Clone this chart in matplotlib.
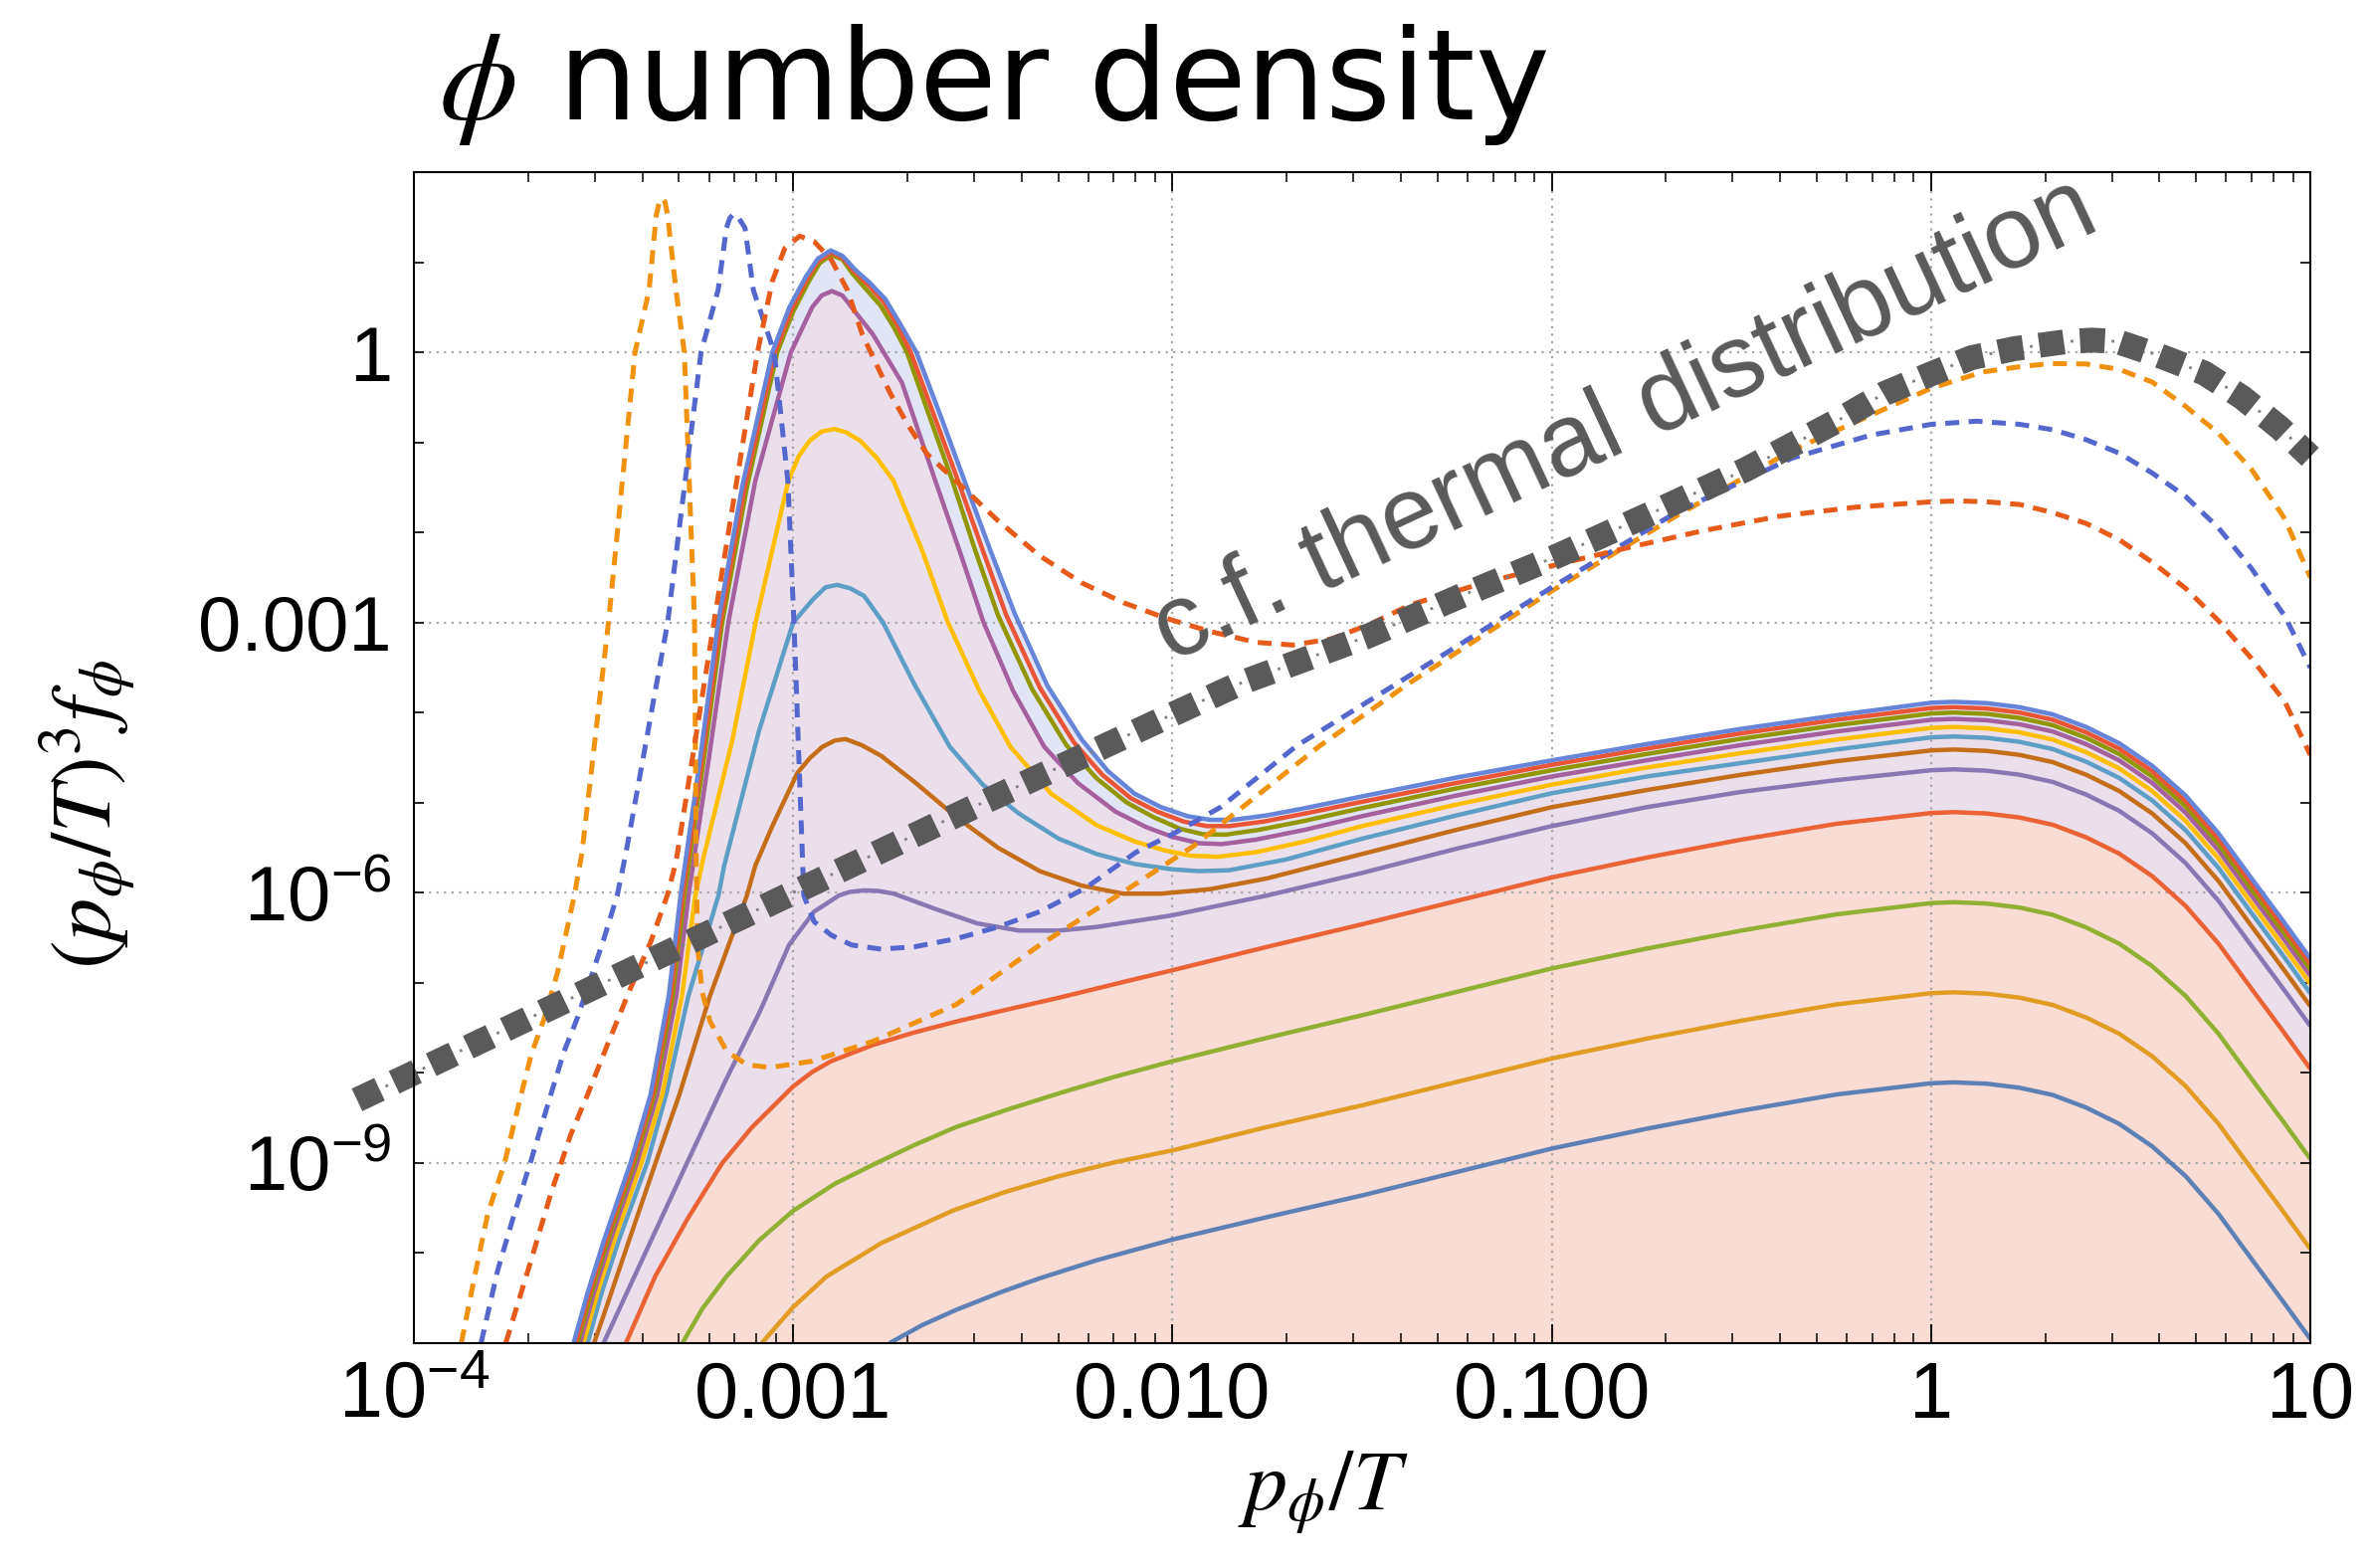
import numpy as np
import matplotlib
matplotlib.use("Agg")
import matplotlib.pyplot as plt
from matplotlib.ticker import FixedLocator, FixedFormatter, NullFormatter

# ---------------- data (log10 of x = p_phi/T and of y = (p/T)^3 f) ----------------
# right-hand x samples shared by the solid curves
lxr = [0.06, 0.147, 0.234, 0.321, 0.409, 0.496, 0.583, 0.671, 0.758, 0.845, 0.933, 1.0]

# solid curves 1..12 (bottom to top)
lx1 = [-2.746, -2.66, -2.57, -2.45, -2.35, -2.2, -2.0, -1.75, -1.5, -1.25, -1.0, -0.75, -0.5, -0.25, 0.0] + lxr
ly1 = [-11.0, -10.80, -10.63, -10.43, -10.28, -10.08, -9.85, -9.60, -9.36, -9.10, -8.84, -8.62, -8.42, -8.24, -8.115,
       -8.105, -8.12, -8.165, -8.245, -8.385, -8.565, -8.815, -9.145, -9.565, -10.065, -10.565, -10.955]

lx2 = [-3.083, -3.0, -2.912, -2.768, -2.58, -2.44, -2.294, -2.15, -2.0, -1.75, -1.5, -1.25, -1.0, -0.75, -0.5, -0.25, 0.0] + lxr
ly2 = [-11.0, -10.6, -10.26, -9.89, -9.53, -9.32, -9.14, -8.99, -8.86, -8.60, -8.36, -8.10, -7.84, -7.62, -7.42, -7.24, -7.115,
       -7.105, -7.12, -7.165, -7.245, -7.385, -7.565, -7.815, -8.145, -8.565, -9.065, -9.565, -9.955]

lx3 = [-3.292, -3.24, -3.176, -3.09, -3.0, -2.89, -2.78, -2.68, -2.57, -2.43, -2.294, -2.15, -2.0, -1.75, -1.5, -1.25, -1.0, -0.75, -0.5, -0.25, 0.0] + lxr
ly3 = [-11.0, -10.62, -10.26, -9.86, -9.53, -9.23, -9.0, -8.80, -8.60, -8.40, -8.22, -8.04, -7.87, -7.61, -7.36, -7.10, -6.84, -6.62, -6.42, -6.24, -6.115,
       -6.105, -6.12, -6.165, -6.245, -6.385, -6.565, -6.815, -7.145, -7.565, -8.065, -8.565, -8.955]

lx4 = [-3.441, -3.364, -3.28, -3.187, -3.11, -3.0, -2.95, -2.90, -2.79, -2.68, -2.57, -2.46, -2.294, -2.129, -2.0, -1.75, -1.5, -1.25, -1.0, -0.75, -0.5, -0.25, 0.0] + lxr
ly4 = [-11.0, -10.26, -9.63, -9.0, -8.61, -8.15, -7.99, -7.87, -7.69, -7.55, -7.43, -7.32, -7.16, -6.99, -6.86, -6.60, -6.35, -6.09, -5.83, -5.61, -5.41, -5.235, -5.115,
       -5.105, -5.12, -5.165, -5.245, -5.385, -5.565, -5.815, -6.145, -6.565, -7.065, -7.565, -7.955]

lx5 = [-3.50, -3.40, -3.28, -3.18, -3.088, -3.011, -2.945, -2.879, -2.85, -2.813, -2.775, -2.735, -2.625, -2.515, -2.405, -2.30, -2.2, -2.0, -1.75, -1.5, -1.25, -1.0, -0.75, -0.5, -0.25, 0.0] + lxr
ly5 = [-11.0, -10.09, -9.0, -8.1, -7.32, -6.58, -6.21, -6.03, -5.99, -5.974, -5.98, -6.01, -6.18, -6.34, -6.42, -6.42, -6.38, -6.25, -6.03, -5.78, -5.51, -5.26, -5.05, -4.88, -4.75, -4.64,
       -4.63, -4.645, -4.69, -4.77, -4.91, -5.09, -5.34, -5.67, -6.09, -6.59, -7.09, -7.48]

lx6 = [-3.525, -3.49, -3.44, -3.363, -3.30, -3.219, -3.122, -3.10, -3.055, -2.989, -2.955, -2.923, -2.89, -2.862, -2.82, -2.768, -2.68, -2.57, -2.46, -2.35, -2.24, -2.13, -2.03, -1.9, -1.75, -1.5, -1.25, -1.0, -0.75, -0.5, -0.25, 0.0] + lxr
ly6 = [-11.0, -10.57, -9.95, -9.0, -8.24, -7.14, -6.03, -5.70, -5.26, -4.67, -4.50, -4.38, -4.31, -4.294, -4.36, -4.48, -4.77, -5.16, -5.50, -5.76, -5.92, -6.01, -6.01, -5.96, -5.84, -5.57, -5.30, -5.05, -4.86, -4.69, -4.54, -4.42,
       -4.41, -4.425, -4.47, -4.55, -4.69, -4.87, -5.12, -5.45, -5.87, -6.37, -6.87, -7.26]

lx7 = [-3.542, -3.505, -3.46, -3.385, -3.335, -3.276, -3.197, -3.182, -3.09, -3.0, -2.945, -2.915, -2.884, -2.85, -2.813, -2.763, -2.68, -2.587, -2.5, -2.405, -2.3, -2.2, -2.1, -2.0, -1.93, -1.85, -1.7, -1.5, -1.25, -1.0, -0.75, -0.5, -0.25, 0.0] + lxr
ly7 = [-11.0, -10.44, -9.86, -9.0, -8.24, -7.14, -6.03, -5.70, -4.2, -3.0, -2.73, -2.61, -2.582, -2.62, -2.705, -3.0, -3.69, -4.38, -4.80, -5.12, -5.40, -5.57, -5.68, -5.74, -5.76, -5.75, -5.63, -5.40, -5.14, -4.895, -4.71, -4.56, -4.41, -4.275,
       -4.265, -4.28, -4.325, -4.405, -4.545, -4.725, -4.975, -5.305, -5.725, -6.225, -6.725, -7.115]

lx8 = [-3.553, -3.516, -3.472, -3.40, -3.345, -3.293, -3.258, -3.236, -3.16, -3.099, -3.013, -2.985, -2.956, -2.925, -2.891, -2.86, -2.824, -2.78, -2.735, -2.66, -2.592, -2.51, -2.427, -2.32, -2.2, -2.1, -2.02, -1.95, -1.88, -1.78, -1.65, -1.5, -1.25, -1.0, -0.75, -0.5, -0.25, 0.0] + lxr
ly8 = [-11.0, -10.44, -9.86, -9.0, -8.24, -7.14, -6.03, -5.60, -4.3, -3.0, -1.43, -1.15, -0.98, -0.88, -0.851, -0.89, -0.98, -1.17, -1.43, -2.2, -3.0, -3.75, -4.38, -4.9, -5.25, -5.43, -5.53, -5.59, -5.60, -5.55, -5.43, -5.26, -5.02, -4.80, -4.61, -4.45, -4.30, -4.17,
       -4.16, -4.175, -4.22, -4.30, -4.44, -4.62, -4.87, -5.20, -5.62, -6.12, -6.62, -7.01]

lx9 = [-3.562, -3.525, -3.482, -3.412, -3.358, -3.308, -3.276, -3.222, -3.171, -3.10, -3.006, -2.95, -2.925, -2.898, -2.87, -2.835, -2.79, -2.713, -2.625, -2.56, -2.498, -2.42, -2.338, -2.25, -2.15, -2.07, -2.0, -1.93, -1.87, -1.78, -1.65, -1.5, -1.25, -1.0, -0.75, -0.5, -0.25, 0.0] + lxr
ly9 = [-11.0, -10.44, -9.86, -9.0, -8.24, -7.14, -6.03, -4.5, -3.0, -1.43, 0.0, 0.50, 0.63, 0.679, 0.63, 0.44, 0.2, -0.34, -1.43, -2.22, -3.0, -3.76, -4.38, -4.78, -5.1, -5.27, -5.38, -5.45, -5.46, -5.41, -5.30, -5.15, -4.92, -4.71, -4.53, -4.36, -4.21, -4.08,
       -4.07, -4.085, -4.13, -4.21, -4.35, -4.53, -4.78, -5.11, -5.53, -6.03, -6.53, -6.92]

lx10 = [-3.569, -3.532, -3.489, -3.419, -3.366, -3.318, -3.287, -3.235, -3.187, -3.122, -3.042, -3.0, -2.960, -2.93, -2.90, -2.87, -2.845, -2.81, -2.77, -2.735, -2.70, -2.64, -2.58, -2.52, -2.46, -2.37, -2.28, -2.2, -2.12, -2.05, -1.98, -1.92, -1.86, -1.77, -1.65, -1.5, -1.25, -1.0, -0.75, -0.5, -0.25, 0.0] + lxr
ly10 = [-11.0, -10.44, -9.86, -9.0, -8.24, -7.14, -6.03, -4.5, -3.0, -1.5, 0.0, 0.45, 0.78, 0.99, 1.082, 1.03, 0.88, 0.71, 0.52, 0.28, 0.0, -0.72, -1.43, -2.2, -2.92, -3.74, -4.36, -4.73, -5.0, -5.16, -5.29, -5.35, -5.355, -5.30, -5.20, -5.06, -4.84, -4.64, -4.46, -4.29, -4.14, -4.01,
        -4.0, -4.015, -4.06, -4.14, -4.28, -4.46, -4.71, -5.04, -5.46, -5.96, -6.46, -6.85]

lx11 = [-3.574, -3.537, -3.494, -3.424, -3.371, -3.323, -3.292, -3.240, -3.192, -3.128, -3.048, -3.005, -2.965, -2.935, -2.90, -2.87, -2.84, -2.80, -2.76, -2.725, -2.69, -2.627, -2.565, -2.50, -2.438, -2.35, -2.26, -2.185, -2.11, -2.04, -1.97, -1.91, -1.85, -1.76, -1.65, -1.5, -1.25, -1.0, -0.75, -0.5, -0.25, 0.0] + lxr
ly11 = [-11.0, -10.44, -9.86, -9.0, -8.24, -7.14, -6.03, -4.5, -3.0, -1.5, 0.0, 0.47, 0.80, 1.01, 1.107, 1.05, 0.90, 0.74, 0.55, 0.30, 0.0, -0.72, -1.43, -2.2, -2.92, -3.72, -4.33, -4.69, -4.95, -5.1, -5.21, -5.26, -5.26, -5.21, -5.12, -4.99, -4.78, -4.58, -4.40, -4.23, -4.08, -3.95,
        -3.94, -3.955, -4.0, -4.08, -4.22, -4.40, -4.65, -4.98, -5.40, -5.90, -6.40, -6.79]

lx12 = [-3.579, -3.542, -3.499, -3.429, -3.376, -3.328, -3.297, -3.245, -3.198, -3.135, -3.055, -3.01, -2.967, -2.935, -2.901, -2.87, -2.835, -2.80, -2.757, -2.72, -2.675, -2.61, -2.548, -2.48, -2.416, -2.33, -2.239, -2.17, -2.1, -2.03, -1.96, -1.9, -1.84, -1.75, -1.65, -1.5, -1.25, -1.0, -0.75, -0.5, -0.25, 0.0] + lxr
ly12 = [-11.0, -10.44, -9.86, -9.0, -8.24, -7.14, -6.03, -4.5, -3.0, -1.5, 0.0, 0.50, 0.836, 1.04, 1.131, 1.07, 0.91, 0.78, 0.59, 0.33, 0.0, -0.72, -1.43, -2.2, -2.9, -3.7, -4.3, -4.65, -4.9, -5.05, -5.15, -5.19, -5.19, -5.14, -5.06, -4.93, -4.72, -4.53, -4.35, -4.18, -4.03, -3.89,
        -3.88, -3.895, -3.94, -4.02, -4.16, -4.34, -4.59, -4.92, -5.34, -5.84, -6.34, -6.73]

solid_colors = ['#5E81B5', '#E19C24', '#8FB032', '#EB6235', '#8778B3', '#C56E1A',
                '#5D9EC7', '#FFBF00', '#A5609D', '#929600', '#E95536', '#6685D9']

# dashed curves
lxd1 = [-3.875, -3.840, -3.805, -3.761, -3.726, -3.691, -3.656, -3.621, -3.577, -3.557, -3.487, -3.417, -3.380, -3.361, -3.353, -3.345, -3.338, -3.331, -3.309, -3.287, -3.260, -3.256, -3.252, -3.24, -3.219, -3.175, -3.122, -3.061, -2.95, -2.79, -2.57, -2.35, -2.129, -1.944, -1.612, -1.371, -1.0, -0.669, -0.367, 0.0, 0.135, 0.234, 0.315, 0.409, 0.496, 0.583, 0.671, 0.758, 0.845, 0.933, 1.0]
lyd1 = [-11.0, -10.26, -9.56, -9.0, -8.39, -7.80, -7.39, -6.88, -6.03, -5.56, -3.0, 0.0, 0.69, 1.52, 1.67, 1.712, 1.67, 1.52, 0.69, 0.0, -3.0, -5.56, -6.6, -7.1, -7.43, -7.76, -7.91, -7.94, -7.87, -7.65, -7.24, -6.58, -5.99, -5.48, -4.37, -3.66, -2.65, -1.81, -1.09, -0.40, -0.22, -0.16, -0.125, -0.13, -0.19, -0.33, -0.60, -0.90, -1.30, -1.85, -2.50]

lxd2 = [-3.823, -3.779, -3.735, -3.691, -3.639, -3.604, -3.569, -3.534, -3.499, -3.464, -3.441, -3.331, -3.243, -3.198, -3.176, -3.167, -3.157, -3.145, -3.127, -3.105, -3.050, -3.014, -2.998, -2.976, -2.972, -2.945, -2.90, -2.846, -2.768, -2.68, -2.57, -2.46, -2.35, -2.23, -2.096, -2.0, -1.873, -1.673, -1.371, -1.0, -0.669, -0.367, -0.159, 0.0, 0.12, 0.234, 0.321, 0.409, 0.496, 0.583, 0.671, 0.758, 0.845, 0.933, 1.0]
lyd2 = [-11.0, -10.19, -9.56, -8.97, -8.24, -7.76, -7.39, -6.95, -6.51, -6.03, -5.56, -3.0, 0.0, 0.69, 1.38, 1.49, 1.535, 1.50, 1.38, 0.69, 0.0, -1.43, -3.0, -5.56, -6.03, -6.32, -6.47, -6.58, -6.626, -6.60, -6.51, -6.38, -6.21, -5.95, -5.55, -5.35, -5.05, -4.37, -3.58, -2.61, -1.77, -1.176, -0.92, -0.80, -0.765, -0.80, -0.86, -0.97, -1.12, -1.34, -1.60, -1.95, -2.40, -2.93, -3.50]

lxd3 = [-3.758, -3.691, -3.639, -3.586, -3.542, -3.49, -3.429, -3.376, -3.332, -3.309, -3.209, -3.094, -3.055, -3.022, -2.983, -2.945, -2.90, -2.857, -2.818, -2.79, -2.746, -2.70, -2.647, -2.57, -2.46, -2.35, -2.239, -2.129, -2.019, -1.90, -1.78, -1.683, -1.58, -1.48, -1.371, -1.171, -0.98, -0.80, -0.60, -0.40, -0.20, 0.0, 0.074, 0.147, 0.234, 0.321, 0.409, 0.496, 0.583, 0.671, 0.758, 0.845, 0.933, 1.0]
lyd3 = [-11.0, -10.08, -9.34, -8.68, -8.24, -7.69, -7.06, -6.55, -6.03, -5.66, -3.0, 0.0, 0.79, 1.156, 1.289, 1.23, 1.03, 0.69, 0.2, -0.05, -0.44, -0.79, -1.13, -1.43, -1.87, -2.26, -2.56, -2.78, -2.95, -3.10, -3.22, -3.25, -3.18, -3.02, -2.80, -2.55, -2.35, -2.17, -1.98, -1.82, -1.72, -1.66, -1.65, -1.66, -1.69, -1.78, -1.90, -2.08, -2.33, -2.62, -2.98, -3.40, -3.88, -4.47]

dashed_colors = ['#F0920E', '#5566CC', '#E65A1A']

# thermal distribution (for comparison)
lxt = [-4.15, -3.5, -3.0, -2.5, -2.0, -1.813, -1.49, -1.231, -0.99, -0.749, -0.488, -0.247, -0.124, 0.0, 0.107, 0.22, 0.36, 0.425, 0.49, 0.60, 0.72, 0.82, 0.92, 1.0]
lyt = [-8.3, -7.0, -6.0, -5.0, -4.02, -3.66, -3.16, -2.69, -2.27, -1.81, -1.30, -0.76, -0.46, -0.24, -0.06, 0.04, 0.12, 0.135, 0.12, -0.035, -0.23, -0.50, -0.84, -1.16]

# axes ticks / grid
xticks = [1e-4, 1e-3, 1e-2, 1e-1, 1, 10]
xticklabels = [r'$\mathregular{10^{-4}}$', '0.001', '0.010', '0.100', '1', '10']
yticks = [1e-9, 1e-6, 1e-3, 1]
yticklabels = [r'$\mathregular{10^{-9}}$', r'$\mathregular{10^{-6}}$', '0.001', '1']
grid_x = [1e-3, 1e-2, 1e-1, 1]
grid_y = [1e-9, 1e-6, 1e-3, 1]

# ---------------- plotting ----------------
plt.rcParams['font.family'] = ['Liberation Sans', 'DejaVu Sans']
plt.rcParams['mathtext.fontset'] = 'custom'
plt.rcParams['mathtext.rm'] = 'Liberation Sans'
plt.rcParams['mathtext.it'] = 'Liberation Sans:italic'
plt.rcParams['mathtext.bf'] = 'Liberation Sans:bold'

W, H = 2383, 1576
fig = plt.figure(figsize=(W / 100, H / 100), dpi=100)
L, R, T, B = 416, 2322, 173, 1350
ax = fig.add_axes([L / W, 1 - B / H, (R - L) / W, (B - T) / H])
ax.set_xscale('log')
ax.set_yscale('log')
ax.set_xlim(1e-4, 10)
ax.set_ylim(1e-11, 1e2)


def P(a):
    return 10.0 ** np.asarray(a, dtype=float)


# fills
ax.fill_between(P(lx12), 1e-13, P(ly12), color='#E1E5F5', lw=0, zorder=1)
ax.fill_between(P(lx9), 1e-13, P(ly9), color='#ECDFEC', lw=0, zorder=1.1)
ax.fill_between(P(lx4), 1e-13, P(ly4), color='#F9DCD4', lw=0, zorder=1.2)

# grid lines
for gx in grid_x:
    ax.axvline(gx, color='#a8a8a8', lw=1.6, ls=(0, (1, 2.4)), zorder=1.5)
for gy in grid_y:
    ax.axhline(gy, color='#a8a8a8', lw=1.6, ls=(0, (1, 2.4)), zorder=1.5)

solids = [(lx1, ly1), (lx2, ly2), (lx3, ly3), (lx4, ly4), (lx5, ly5), (lx6, ly6),
          (lx7, ly7), (lx8, ly8), (lx9, ly9), (lx10, ly10), (lx11, ly11), (lx12, ly12)]
for (lx, ly), c in zip(solids, solid_colors):
    ax.plot(P(lx), P(ly), color=c, lw=3.2, solid_capstyle='butt',
            solid_joinstyle='round', zorder=3)

dashed = [(lxd1, lyd1), (lxd2, lyd2), (lxd3, lyd3)]
for (lx, ly), c in zip(dashed, dashed_colors):
    ax.plot(P(lx), P(ly), color=c, lw=3.6, ls=(0, (2.8, 1.9)),
            dash_capstyle='butt', dash_joinstyle='round', zorder=4)

# thermal reference line: thick dashes with small dots in the gaps
ax.plot(P(lxt), P(lyt), color='#808080', lw=2.0, ls=(3.425, (1.0, 13.85)),
        dash_capstyle='butt', clip_on=False, zorder=5)
ax.plot(P(lxt), P(lyt), color='#5a5a5a', lw=18, ls=(0, (1.0, 0.65)),
        dash_capstyle='butt', clip_on=False, zorder=5.1)

ax.text(P(-0.808), P(-0.766), 'c.f. thermal distribution', rotation=25,
        rotation_mode='anchor', ha='center', va='center', fontsize=74,
        color='#5a5a5a', zorder=6)

# ticks
ax.xaxis.set_major_locator(FixedLocator(xticks))
ax.xaxis.set_major_formatter(FixedFormatter(xticklabels))
xminor = [k * 10.0 ** e for e in range(-4, 1) for k in range(2, 10)]
ax.xaxis.set_minor_locator(FixedLocator(xminor))
ax.xaxis.set_minor_formatter(NullFormatter())

ax.yaxis.set_major_locator(FixedLocator(yticks))
ax.yaxis.set_major_formatter(FixedFormatter(yticklabels))
yminor = [10.0 ** e for e in range(-11, 3) if e not in (-9, -6, -3, 0)]
ax.yaxis.set_minor_locator(FixedLocator(yminor))
ax.yaxis.set_minor_formatter(NullFormatter())

ax.tick_params(axis='x', which='major', direction='in', length=14, width=1.3,
               top=True, bottom=True, labelsize=57, pad=12)
ax.tick_params(axis='x', which='minor', direction='in', length=7, width=1.1,
               top=True, bottom=True)
ax.tick_params(axis='y', which='both', direction='in', length=7.5, width=1.2,
               left=True, right=True)
ax.tick_params(axis='y', which='major', labelsize=56, pad=16)
for s in ax.spines.values():
    s.set_linewidth(1.5)
    s.set_zorder(7)

# labels
fig.text(441 / W, 1 - 120 / H, r'$\phi$ number density', fontsize=91,
         family='DejaVu Sans', math_fontfamily='stix', ha='left', va='baseline')
fig.text(88 / W, 1 - 818 / H, r'$(p_\phi/T)^3 f_\phi$', rotation=90, fontsize=62,
         math_fontfamily='stix', ha='center', va='center')
fig.text(1330 / W, 1 - 1500 / H, r'$p_\phi/T$', fontsize=62,
         math_fontfamily='stix', ha='center', va='center')

fig.savefig('out.png', dpi=100)
